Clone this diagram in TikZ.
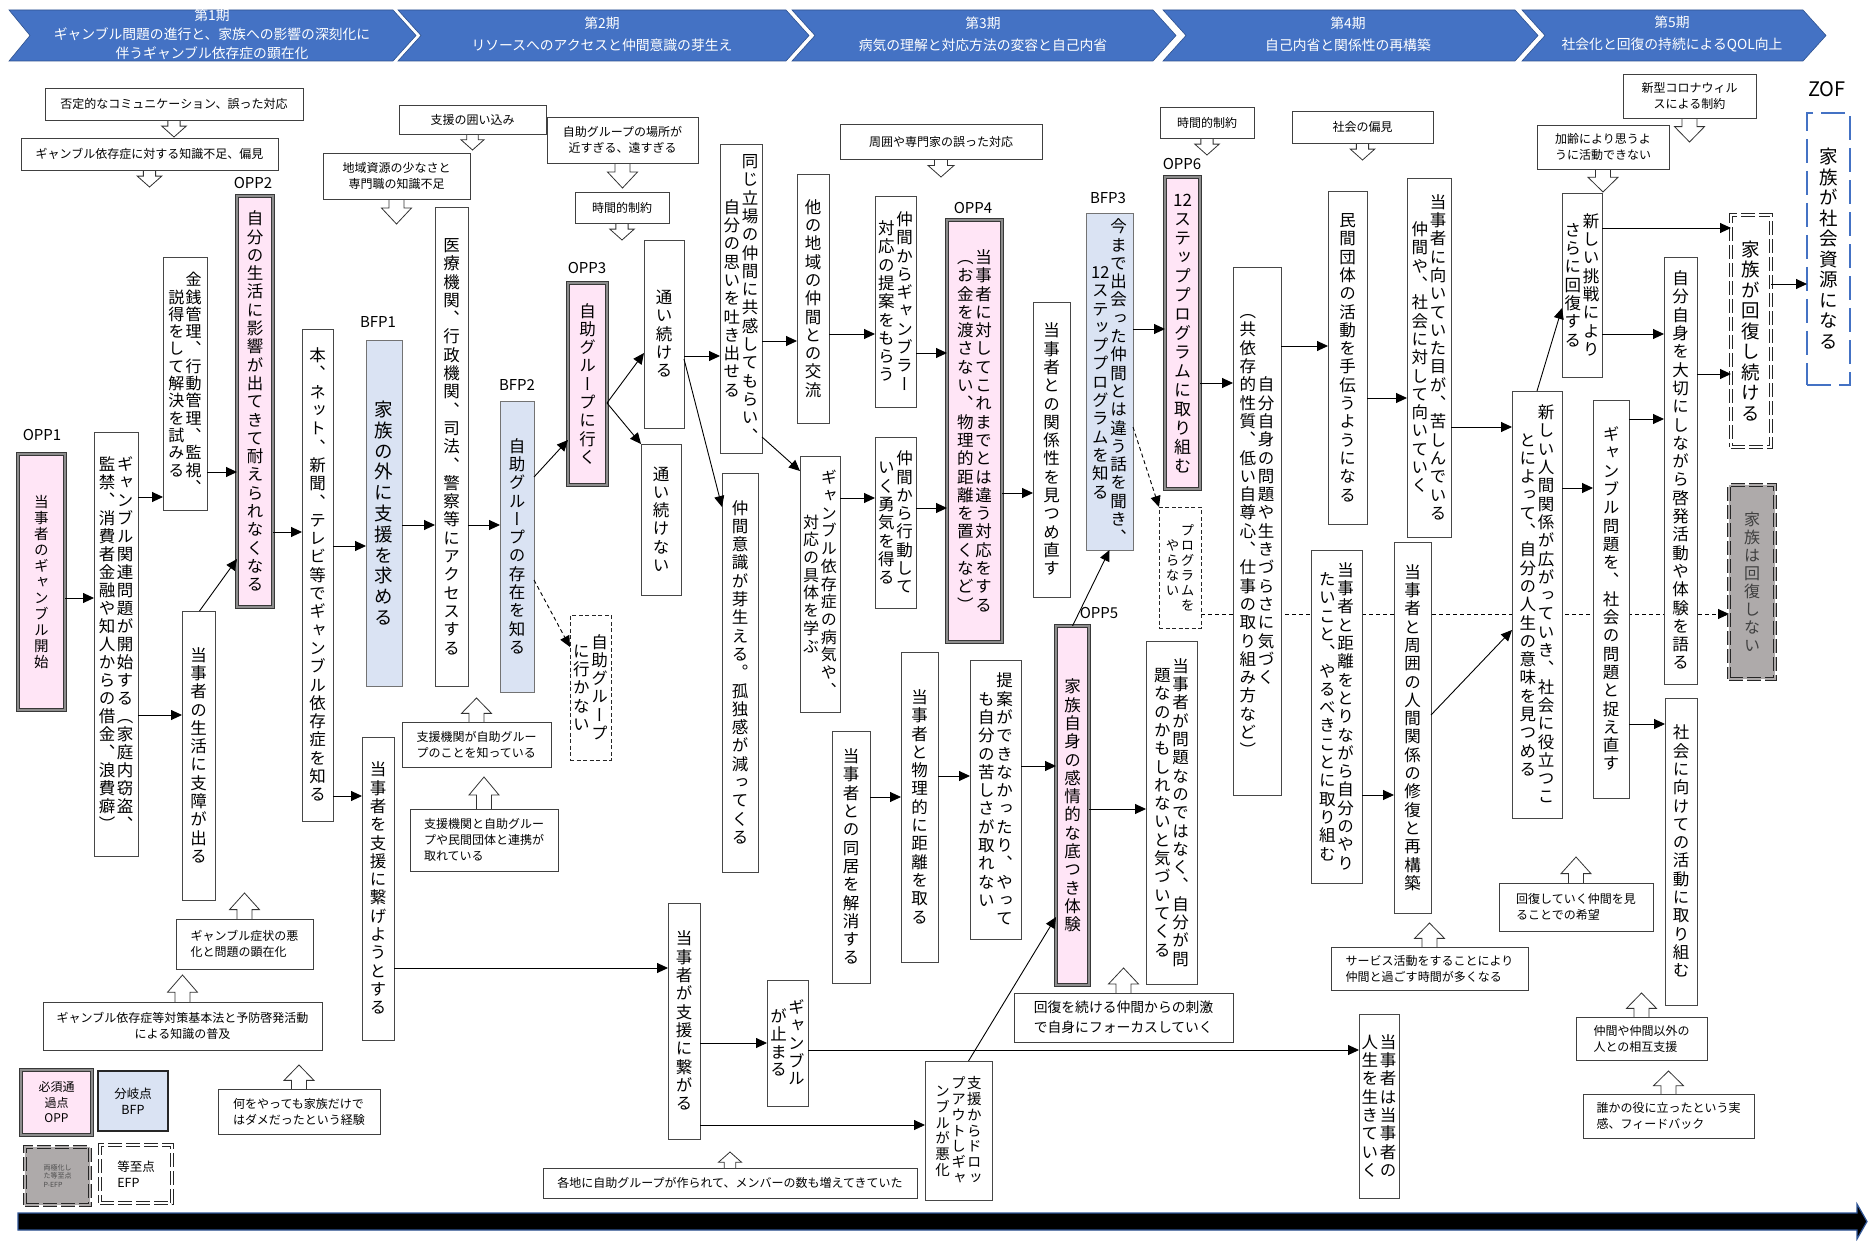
\documentclass[tikz,border=0pt]{standalone}
\usepackage{fontspec}
\setmainfont{Noto Sans CJK JP}
\newfontfamily\jpv{Noto Sans CJK JP}[RawFeature=+vert]
\usetikzlibrary{arrows.meta,calc}
\definecolor{hdrblue}{HTML}{4472C4}
\definecolor{hdredge}{HTML}{2F528F}
\definecolor{tlblue}{HTML}{2F5597}
\definecolor{pinkf}{HTML}{FFE5F6}
\definecolor{bluef}{HTML}{DAE3F3}
\definecolor{grayf}{HTML}{AEAAAA}
\pgfdeclarelayer{back}
\pgfdeclarelayer{bg}
\pgfsetlayers{back,bg,main}

\ExplSyntaxOn
\seq_new:N \l__vt_seq
\dim_new:N \l__vt_pitch_dim
\dim_new:N \l__vt_ht_dim
\dim_new:N \l__vt_dp_dim
\NewDocumentCommand \vt { O{16.5} O{18.3} m }
  {
    \group_begin:
    \fontsize{#1pt}{#1pt}\selectfont \jpv
    \dim_set:Nn \l__vt_pitch_dim {#2pt}
    \dim_set:Nn \l__vt_ht_dim { 0.88em + (\l__vt_pitch_dim - 1em) / 2 }
    \dim_set:Nn \l__vt_dp_dim { \l__vt_pitch_dim - \l__vt_ht_dim }
    \seq_set_split:Nnn \l__vt_seq { | } {#3}
    \seq_reverse:N \l__vt_seq
    \hbox:n
      {
        \seq_map_inline:Nn \l__vt_seq
          {
            $ \vcenter
              {
                \offinterlineskip
                \tl_map_inline:nn {##1}
                  {
                    \hbox_to_wd:nn { \l__vt_pitch_dim }
                      {
                        \hss
                        \vrule height \l__vt_ht_dim depth \l__vt_dp_dim width 0pt \relax
                        ####1
                        \hss
                      }
                  }
              }
            $
          }
      }
    \group_end:
  }
\ExplSyntaxOff

\newcommand\NBox[7][]{\node[#1,minimum width={#5-#3},minimum height={#6-#4}] (#2) at ({(#3+#5)/2},{(#4+#6)/2}) {#7};}
\newcommand\HArr[3]{\draw[arr] (#1.east|-0,#3) -- (#2.west|-0,#3);}
\newcommand\HAcalc[1]{%
  \pgfmathsetmacro\HAhl{min(0.64*#1,18)}%
  \pgfmathsetmacro\HAsl{#1-\HAhl}%
  \pgfmathsetmacro\HAhw{min(15,0.72*#1)}%
  \pgfmathsetmacro\HAsw{\HAhw/2}%
  \pgfmathsetmacro\HAdw{\HAhw-\HAsw}}
\newcommand\HDn[2]{\HAcalc{#2}%
  \draw[hollow] ([xshift=-\HAsw pt]#1.south) -- ++(0,\HAsl) -- ++(-\HAdw,0) -- ++(\HAhw,\HAhl) -- ++(\HAhw,-\HAhl) -- ++(-\HAdw,0) -- ++(0,-\HAsl);}
\newcommand\HUp[2]{\HAcalc{#2}%
  \draw[hollow] ([xshift=-\HAsw pt]#1.north) -- ++(0,-\HAsl) -- ++(-\HAdw,0) -- ++(\HAhw,-\HAhl) -- ++(\HAhw,\HAhl) -- ++(-\HAdw,0) -- ++(0,\HAsl);}

\tikzset{
 box/.style={draw=black!72,line width=0.9pt,fill=white,inner sep=0pt,outer sep=0pt},
 oppbox/.style={box,fill=pinkf,draw=black!78,double=black!45,double distance=1.5pt,line width=0.9pt},
 bfpbox/.style={box,fill=bluef,draw=black!55,line width=1pt},
 dashbox/.style={box,draw=black!85,line width=0.8pt,dash pattern=on 4pt off 2.5pt},
 efpbox/.style={box,draw=black!85,double=white,double distance=1.5pt,line width=0.9pt,dash pattern=on 14pt off 4pt},
 pefpbox/.style={efpbox,fill=grayf,double=grayf},
 zofbox/.style={box,draw=hdrblue,line width=2.6pt,dash pattern=on 24pt off 8pt},
 ann/.style={box,draw=black!75,font=\fontsize{12pt}{16pt}\selectfont,align=center},
 annl/.style={ann,align=left},
 lbl/.style={font=\fontsize{15pt}{15pt}\selectfont,inner sep=0pt},
 hdr/.style={text=white,font=\fontsize{13.8pt}{22pt}\selectfont,align=center,inner sep=0pt},
 arr/.style={draw=black,line width=0.9pt,-{Triangle[length=11pt,width=10pt]}},
 darr/.style={arr,dash pattern=on 4pt off 3pt},
 hollow/.style={draw=black!80,fill=white,line width=0.8pt,line join=miter},
}

\begin{document}
\begin{tikzpicture}[x=1pt,y=-1pt]
\useasboundingbox (0,0) rectangle (1869,1241);
\begin{pgfonlayer}{back}
\fill[white] (0,0) rectangle (1869,1241);
\end{pgfonlayer}

% header chevrons
\filldraw[fill=hdrblue,draw=hdredge,line width=0.6pt] (9,10) -- (393,10) -- (416,35.5) -- (393,61) -- (9,61) -- (30,35.5) -- cycle;
\filldraw[fill=hdrblue,draw=hdredge,line width=0.6pt] (398,10) -- (786,10) -- (809,35.5) -- (786,61) -- (398,61) -- (421,35.5) -- cycle;
\filldraw[fill=hdrblue,draw=hdredge,line width=0.6pt] (792,10) -- (1153,10) -- (1176,35.5) -- (1153,61) -- (792,61) -- (815,35.5) -- cycle;
\filldraw[fill=hdrblue,draw=hdredge,line width=0.6pt] (1163,10) -- (1515,10) -- (1538,35.5) -- (1515,61) -- (1163,61) -- (1186,35.5) -- cycle;
\filldraw[fill=hdrblue,draw=hdredge,line width=0.6pt] (1522,10) -- (1803,10) -- (1826,35.5) -- (1803,61) -- (1522,61) -- (1545,35.5) -- cycle;
\node[hdr,font=\fontsize{13.8pt}{19pt}\selectfont] (H1) at (212,34) {第1期\\ギャンブル問題の進行と、家族への影響の深刻化に\\伴うギャンブル依存症の顕在化};
\node[hdr] (H2) at (602,34) {第2期\\リソースへのアクセスと仲間意識の芽生え};
\node[hdr] (H3) at (983,34) {第3期\\病気の理解と対応方法の変容と自己内省};
\node[hdr] (H4) at (1348,34) {第4期\\自己内省と関係性の再構築};
\node[hdr] (H5) at (1672,34) {第5期\\社会化と回復の持続によるQOL向上};

% timeline arrow
\filldraw[fill=black,draw=tlblue,line width=1.2pt] (18,1213) -- (1857,1213) -- (1857,1204) -- (1867,1221.5) -- (1857,1239) -- (1857,1230) -- (18,1230) -- cycle;

% main vertical boxes
\NBox[oppbox]{OPP1}{18}{454}{65}{710}{\vt[14.5][16]{当事者のギャンブル開始}}
\NBox[box]{N2}{94}{432}{138}{856}{\vt[16.5][18]{ギャンブル関連問題が開始する（家庭内窃盗、|監禁、消費者金融や知人からの借金、浪費癖）}}
\NBox[box]{N3}{163}{257}{207}{510}{\vt[16][17.3]{金銭管理、行動管理、監視、|説得をして解決を試みる}}
\NBox[box]{N4}{182}{611}{215}{900}{\vt{当事者の生活に支障が出る}}
\NBox[oppbox]{OPP2}{237}{196}{273}{607}{\vt{自分の生活に影響が出てきて耐えられなくなる}}
\NBox[box]{N5}{302}{329}{333}{821}{\vt{本、ネット、新聞、テレビ等でギャンブル依存症を知る}}
\NBox[bfpbox]{BFP1}{366}{341}{402}{686}{\vt[18.5][20.8]{家族の外に支援を求める}}
\NBox[box]{N6}{435}{207}{468}{686}{\vt{医療機関、行政機関、司法、警察等にアクセスする}}
\NBox[box]{N7}{362}{737}{394}{1040}{\vt{当事者を支援に繋げようとする}}
\NBox[bfpbox]{BFP2}{500}{401}{534}{692}{\vt{自助グループの存在を知る}}
\NBox[dashbox]{NG1}{570}{615}{611}{760}{\vt{自助グループ|に行かない}}
\NBox[oppbox]{OPP3}{568}{283}{607}{485}{\vt{自助グループに行く}}
\NBox[box]{N8}{644}{240}{684}{428}{\vt{通い続ける}}
\NBox[box]{N9}{641}{444}{681}{595}{\vt{通い続けない}}
\NBox[box]{N10}{720}{144}{762}{453}{\vt{同じ立場の仲間に共感してもらい、|自分の思いを吐き出せる}}
\NBox[box]{N11}{797}{174}{829}{423}{\vt{他の地域の仲間との交流}}
\NBox[box]{N12}{875}{196}{916}{407}{\vt{仲間からギャンブラー|対応の提案をもらう}}
\NBox[box]{N13}{722}{473}{758}{872}{\vt{仲間意識が芽生える。孤独感が減ってくる}}
\NBox[box]{N14}{800}{456}{840}{712}{\vt[16][17.7]{ギャンブル依存症の病気や、|対応の具体を学ぶ}}
\NBox[box]{N15}{875}{437}{916}{608}{\vt{仲間から行動して|いく勇気を得る}}
\NBox[box]{N16}{832}{731}{870}{983}{\vt{当事者との同居を解消する}}
\NBox[box]{N17}{901}{652}{938}{962}{\vt{当事者と物理的に距離を取る}}
\NBox[box]{N18}{970}{660}{1021}{939}{\vt{提案ができなかったり、やって|も自分の苦しさが取れない}}
\NBox[oppbox]{OPP4}{947}{220}{1002}{642}{\vt{当事者に対してこれまでとは違う対応をする|（お金を渡さない、物理的距離を置くなど）}}
\NBox[box]{N19}{1033}{302}{1070}{597}{\vt{当事者との関係性を見つめ直す}}
\NBox[bfpbox]{BFP3}{1086}{214}{1133}{550}{\vt{今まで出会った仲間とは違う話を聞き、|{12}ステッププログラムを知る}}
\NBox[oppbox]{OPP6}{1165}{177}{1200}{489}{\vt[17][19]{{12}ステッププログラムに取り組む}}
\NBox[dashbox]{NG2}{1159}{507}{1201}{628}{\vt[13.5][15]{プログラムを|やらない}}
\NBox[box]{N20}{1233}{267}{1281}{795}{\vt{自分自身の問題や生きづらさに気づく|（共依存的性質、低い自尊心、仕事の取り組み方など）}}
\NBox[box]{N21}{1328}{191}{1367}{524}{\vt{民間団体の活動を手伝うようになる}}
\NBox[box]{N22}{1407}{178}{1451}{537}{\vt{当事者に向いていた目が、苦しんでいる|仲間や、社会に対して向いていく}}
\NBox[box]{N23}{1311}{550}{1362}{883}{\vt{当事者と距離をとりながら自分のやり|たいこと、やるべきことに取り組む}}
\NBox[box]{N24}{1394}{542}{1431}{913}{\vt{当事者と周囲の人間関係の修復と再構築}}
\NBox[box]{N25}{1512}{391}{1562}{818}{\vt{新しい人間関係が広がっていき、社会に役立つこ|とによって、自分の人生の意味を見つめる}}
\NBox[box]{N26}{1562}{193}{1602}{377}{\vt{新しい挑戦により|さらに回復する}}
\NBox[box]{N27}{1593}{400}{1629}{798}{\vt{ギャンブル問題を、社会の問題と捉え直す}}
\NBox[box]{N28}{1664}{257}{1697}{684}{\vt{自分自身を大切にしながら啓発活動や体験を語る}}
\NBox[box]{N29}{1665}{698}{1697}{1005}{\vt{社会に向けての活動に取り組む}}
\NBox[efpbox]{EFP}{1731}{215}{1771}{447}{\vt[18.5][20.5]{家族が回復し続ける}}
\NBox[pefpbox,text=black!75]{PEFP}{1729}{485}{1775}{679}{\vt[16][18]{家族は回復しない}}
\NBox[zofbox]{ZOF}{1807}{113}{1850}{385}{\vt[18.5][20.5]{家族が社会資源になる}}
\NBox[box]{N30}{668}{903}{700}{1139}{\vt{当事者が支援に繋がる}}
\NBox[box]{N31}{767}{980}{808}{1106}{\vt[16.5][17.8]{ギャンブル|が止まる}}
\NBox[box]{N32}{925}{1061}{992}{1200}{\vt[14.5][15.8]{支援からドロッ|プアウトしギャ|ンブルが悪化}}
\NBox[oppbox]{OPP5}{1056}{626}{1089}{985}{\vt{家族自身の感情的な底つき体験}}
\NBox[box]{N33}{1146}{641}{1197}{984}{\vt{当事者が問題なのではなく、自分が問|題なのかもしれないと気づいてくる}}
\NBox[box]{N34}{1359}{1014}{1399}{1198}{\vt{当事者は当事者の|人生を生きていく}}

% labels
\node[lbl] (lOPP1) at (42,435) {OPP1};
\node[lbl] (lOPP2) at (253,183) {OPP2};
\node[lbl] (lBFP1) at (378,322) {BFP1};
\node[lbl] (lBFP2) at (517,385) {BFP2};
\node[lbl] (lOPP3) at (587,268) {OPP3};
\node[lbl] (lOPP4) at (973,208) {OPP4};
\node[lbl] (lBFP3) at (1108,198) {BFP3};
\node[lbl] (lOPP6) at (1182,164) {OPP6};
\node[lbl] (lOPP5) at (1099,613) {OPP5};
\node[lbl,font=\fontsize{20pt}{20pt}\selectfont] (lZOF) at (1827,89) {ZOF};

% annotation boxes (top)
\NBox[ann]{A1}{45}{88}{303}{120}{否定的なコミュニケーション、誤った対応}
\NBox[ann]{A2}{21}{138}{278}{170}{ギャンブル依存症に対する知識不足、偏見}
\NBox[ann]{A3}{399}{105}{546}{134}{支援の囲い込み}
\NBox[ann]{A4}{323}{153}{470}{199}{地域資源の少なさと\\専門職の知識不足}
\NBox[ann]{A5}{547}{117}{698}{163}{自助グループの場所が\\近すぎる、遠すぎる}
\NBox[ann]{A6}{575}{192}{669}{223}{時間的制約}
\NBox[ann]{A7}{840}{124}{1042}{159}{周囲や専門家の誤った対応}
\NBox[ann]{A8}{1160}{107}{1254}{138}{時間的制約}
\NBox[ann]{A9}{1292}{111}{1433}{143}{社会の偏見}
\NBox[ann]{A10}{1623}{74}{1756}{118}{新型コロナウィル\\スによる制約}
\NBox[ann]{A11}{1537}{125}{1669}{169}{加齢により思うよ\\うに活動できない}
% annotation boxes (bottom)
\NBox[annl]{B1}{402}{722}{551}{767}{支援機関が自助グルー\\プのことを知っている}
\NBox[annl]{B2}{410}{809}{558}{871}{支援機関と自助グルー\\プや民間団体と連携が\\取れている}
\NBox[annl]{B3}{176}{919}{313}{969}{ギャンブル症状の悪\\化と問題の顕在化}
\NBox[ann]{B4}{43}{1002}{322}{1050}{ギャンブル依存症等対策基本法と予防啓発活動\\による知識の普及}
\NBox[annl]{B5}{218}{1089}{380}{1134}{何をやっても家族だけで\\はダメだったという経験}
\NBox[ann]{B6}{543}{1168}{917}{1198}{各地に自助グループが作られて、メンバーの数も増えてきていた}
\NBox[annl,font=\fontsize{13.8pt}{20pt}\selectfont]{B7}{1014}{993}{1233}{1042}{回復を続ける仲間からの刺激\\で自身にフォーカスしていく}
\NBox[annl]{B8}{1331}{947}{1528}{990}{サービス活動をすることにより\\仲間と過ごす時間が多くなる}
\NBox[annl]{B9}{1499}{883}{1653}{931}{回復していく仲間を見\\ることでの希望}
\NBox[annl]{B10}{1576}{1017}{1707}{1060}{仲間や仲間以外の\\人との相互支援}
\NBox[annl]{B11}{1583}{1094}{1754}{1138}{誰かの役に立ったという実\\感、フィードバック}

% legend
\NBox[oppbox,align=center,font=\fontsize{12pt}{15.5pt}\selectfont]{L1}{21}{1070}{92}{1135}{必須通\\過点\\OPP}
\NBox[bfpbox,draw=black!85,line width=1.6pt,align=center,font=\fontsize{12.5pt}{16pt}\selectfont]{L2}{98}{1071}{168}{1131}{分岐点\\BFP}
\NBox[pefpbox,align=left,text=black!70,font=\fontsize{7pt}{8.5pt}\selectfont]{L3}{25}{1147}{90}{1205}{両極化し\\た等至点\\P-EFP}
\NBox[efpbox,align=left,font=\fontsize{12.5pt}{16pt}\selectfont]{L4}{100}{1145}{172}{1203}{等至点\\EFP}

% hollow arrows and long dashed connector (behind boxes)
\begin{pgfonlayer}{bg}
\HDn{A1}{17} \HDn{A2}{17} \HDn{A3}{16} \HDn{A4}{25} \HDn{A5}{25} \HDn{A6}{17}
\HDn{A7}{18} \HDn{A8}{17} \HDn{A9}{17} \HDn{A10}{24} \HDn{A11}{23}
\HUp{B1}{24} \HUp{B2}{32} \HUp{B3}{26} \HUp{B4}{27} \HUp{B5}{24} \HUp{B6}{16}
\HUp{B7}{25} \HUp{B8}{24} \HUp{B9}{26} \HUp{B10}{24} \HUp{B11}{23}
\draw[darr] (NG2.east|-0,614) -- (PEFP.west|-0,614);
\end{pgfonlayer}

% connectors
\HArr{OPP1}{N2}{598}
\HArr{N2}{N3}{497}
\HArr{N2}{N4}{715}
\HArr{N3}{OPP2}{472}
\draw[arr] ([xshift=1pt]N4.north) -- (OPP2.west|-0,559);
\HArr{OPP2}{N5}{532}
\HArr{N5}{BFP1}{546}
\HArr{N5}{N7}{796}
\HArr{BFP1}{N6}{525}
\HArr{N6}{BFP2}{525}
\draw[arr] (BFP2.east|-0,477) -- (OPP3.west|-0,440);
\draw[darr] (BFP2.east|-0,580) -- (NG1.west|-0,647);
\draw[arr] (OPP3.east|-0,403) -- (N8.west|-0,353);
\draw[arr] (OPP3.east|-0,403) -- (N9.north west);
\HArr{N8}{N10}{356}
\draw[arr] (N8.east|-0,359) -- (N13.west|-0,507);
\HArr{N10}{N11}{341}
\draw[arr] (N10.east|-0,437) -- (N14.west|-0,471);
\HArr{N11}{N12}{334}
\HArr{N12}{OPP4}{353}
\HArr{N14}{N15}{498}
\HArr{N15}{OPP4}{508}
\HArr{OPP4}{N19}{493}
\HArr{N16}{N17}{797}
\HArr{N17}{N18}{776}
\HArr{N18}{OPP5}{766}
\HArr{N7}{N30}{968}
\HArr{N30}{N31}{1043}
\HArr{N30}{N32}{1125}
\HArr{N31}{N34}{1050}
\draw[arr] ([xshift=10pt]N32.north) -- (OPP5.west|-0,917);
\draw[arr] (OPP5.north) -- (BFP3.south);
\HArr{OPP5}{N33}{809}
\HArr{BFP3}{OPP6}{329}
\draw[darr] (BFP3.east|-0,427) -- (NG2.north west);
\HArr{OPP6}{N20}{383}
\HArr{N20}{N21}{346}
\HArr{N21}{N22}{398}
\HArr{N22}{N25}{427}
\HArr{N23}{N24}{795}
\draw[arr] (N24.east|-0,715) -- (N25.west|-0,630);
\draw[arr] (N25.north) -- (N26.west|-0,308);
\HArr{N25}{N27}{488}
\HArr{N26}{EFP}{228}
\HArr{N26}{N28}{334}
\HArr{N27}{N28}{419}
\HArr{N27}{N29}{724}
\HArr{N28}{EFP}{374}
\HArr{EFP}{ZOF}{284}
\end{tikzpicture}
\end{document}
